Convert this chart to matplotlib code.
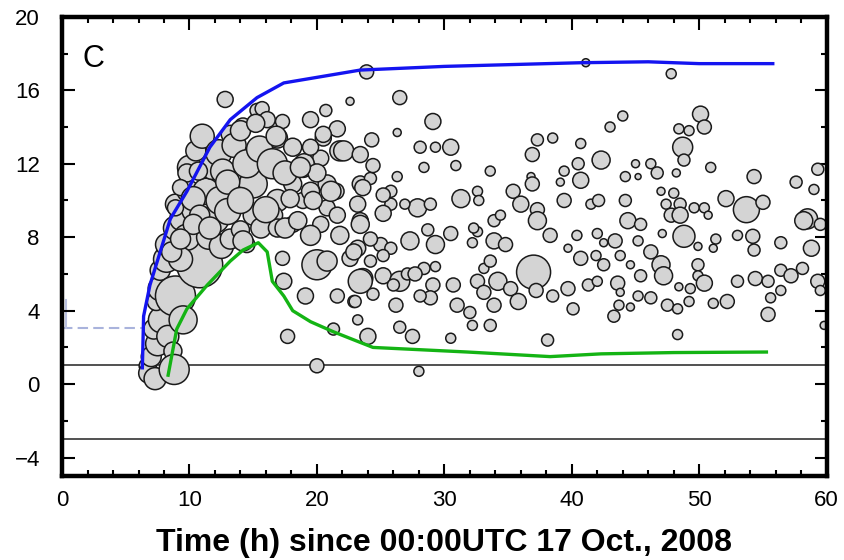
import numpy as np
import matplotlib
matplotlib.use("Agg")
import matplotlib.pyplot as plt
from matplotlib.ticker import MultipleLocator

plt.rcParams.update({
    "font.family": ["Liberation Sans", "DejaVu Sans"],
    "font.size": 15,
})

# Envolvente superior (azul) e inferior (verde)
upper_t = [6.3, 6.4, 6.9, 7.7, 8.5, 9.8, 11.6, 13.2, 15.3, 17.4, 23.4, 30.0, 40.7, 46.0, 50.0, 55.9]
upper_z = [0.8, 3.7, 5.4, 7.2, 9.0, 10.5, 12.9, 14.4, 15.6, 16.4, 17.1, 17.3, 17.5, 17.55, 17.45, 17.45]

lower_t = [8.3, 9.0, 9.8, 11.4, 13.2, 14.2, 15.4, 16.1, 16.5, 17.4, 18.1, 19.5, 21.3, 23.3, 24.4,
           31.8, 38.3, 42.3, 48.0, 55.4]
lower_z = [0.4, 3.0, 4.1, 5.4, 6.7, 7.3, 7.7, 7.2, 5.6, 4.8, 4.0, 3.4, 2.85, 2.3, 2.0,
           1.75, 1.5, 1.65, 1.72, 1.75]

# Linea tenue a la izquierda
early_t = [0.0, 6.3]
early_z = [3.05, 3.05]

# Niveles de referencia
ref_levels = [1.05, -3.0]

# Eventos: tiempo (h), altura, magnitud relativa
ev_time = [
    6.6, 6.8, 7.3, 7.0, 7.5, 7.2, 7.8, 7.4, 7.7, 7.7, 8.2, 8.2, 8.9, 8.9, 8.3, 8.7, 8.8, 8.9, 10.8, 9.5,
    9.4, 9.9, 10.0, 10.5, 11.0, 9.8, 10.5, 11.3, 11.8, 12.0, 12.3, 11.5, 9.3, 12.5, 8.6, 9.8, 12.8, 9.3, 8.9, 10.7,
    12.6, 13.2, 14.2, 15.3, 15.0, 15.0, 12.4, 10.3, 16.9, 18.1, 16.6, 18.9, 20.3, 20.5, 21.8, 18.1, 16.9, 18.9, 20.8, 20.8,
    13.0, 10.8, 15.0, 16.6, 10.3, 11.6, 13.2, 9.3, 14.5, 15.6, 16.9, 18.1, 20.3, 14.0, 13.5, 14.5, 15.5, 16.5, 17.5, 13.0,
    14.0, 16.0, 17.5, 15.7, 16.1, 17.3, 19.5, 20.7, 21.6, 22.6, 14.0, 15.2, 16.8, 19.0, 19.5, 20.0, 21.5, 22.1, 20.5, 19.5,
    18.7, 21.1, 23.4, 23.4, 21.6, 19.7, 17.9, 19.5, 18.5, 21.8, 23.2, 17.3, 17.4, 20.0, 20.8, 22.6, 19.1, 21.6, 22.9, 17.7,
    21.3, 20.0, 14.2, 23.6, 25.0, 25.8, 24.2, 25.8, 23.9, 26.5, 29.1, 26.3, 24.3, 30.5, 28.1, 29.3, 28.4, 26.3, 30.9, 33.6,
    37.3, 36.9, 38.5, 40.7, 40.5, 39.4, 40.7, 39.1, 42.1, 36.8, 31.3, 32.6, 32.7, 23.6, 25.2, 27.9, 28.9, 35.4, 36.9, 36.0,
    37.3, 39.4, 41.5, 23.2, 25.2, 26.9, 23.4, 24.4, 23.4, 24.2, 27.3, 29.3, 30.5, 28.7, 25.8, 23.4, 25.2, 26.5, 27.1, 28.4,
    29.1, 28.9, 28.1, 26.2, 24.4, 23.0, 23.2, 24.0, 26.5, 27.5, 28.0, 30.7, 31.0, 32.0, 32.2, 32.6, 33.6, 33.1, 33.9, 34.2,
    35.2, 35.8, 33.1, 32.2, 32.6, 33.9, 34.8, 33.6, 38.3, 37.3, 37.0, 37.2, 38.5, 38.1, 39.7, 40.1, 40.7, 41.3, 39.7, 40.4,
    30.5, 22.9, 24.2, 25.2, 26.0, 27.7, 29.3, 32.3, 33.9, 34.4, 41.1, 47.8, 44.0, 43.0, 50.1, 50.4, 48.4, 49.2, 48.7, 48.8,
    42.3, 45.0, 46.2, 46.7, 44.2, 45.2, 48.2, 50.9, 54.3, 57.6, 59.3, 59.0, 52.1, 53.7, 55.0, 58.5, 42.1, 44.2, 44.4, 45.4,
    47.0, 48.0, 47.4, 48.5, 47.8, 48.5, 49.6, 50.4, 50.7, 48.8, 49.9, 47.1, 43.4, 45.2, 42.0, 42.5, 51.3, 51.1, 53.0, 54.2,
    54.3, 56.4, 58.8, 59.5, 58.2, 41.9, 42.5, 43.8, 44.6, 46.2, 47.0, 47.2, 45.4, 43.6, 42.0, 43.8, 45.2, 46.2, 47.5, 48.3,
    43.7, 44.6, 43.3, 49.9, 49.9, 50.4, 49.3, 49.2, 48.4, 51.1, 52.2, 53.0, 54.4, 55.4, 56.4, 57.2, 58.1, 59.3, 59.5, 56.4,
    55.6, 55.4, 48.3, 59.8,
]
ev_alt = [
    1.0, 0.6, 0.3, 1.5, 2.2, 3.0, 3.5, 4.5, 5.2, 6.2, 6.8, 7.6, 8.5, 9.8, 2.6, 1.8, 0.8, 4.8, 6.5, 3.5,
    9.0, 10.5, 11.8, 12.7, 13.5, 8.0, 9.5, 10.5, 11.8, 9.0, 12.6, 8.0, 6.8, 7.5, 7.2, 11.5, 15.5, 10.7, 9.6, 11.6,
    11.6, 13.6, 14.0, 14.9, 12.3, 10.9, 10.0, 10.1, 13.4, 12.9, 11.9, 11.8, 12.3, 13.4, 12.7, 10.9, 10.0, 10.0, 10.9, 9.6,
    9.4, 9.2, 9.2, 9.2, 8.7, 8.5, 7.9, 7.9, 7.6, 8.5, 8.5, 8.7, 8.7, 8.4, 13.0, 12.0, 12.8, 12.0, 11.5, 11.0,
    10.0, 9.5, 8.5, 15.0, 14.4, 14.3, 14.4, 14.9, 13.9, 15.4, 13.8, 14.2, 13.5, 12.0, 10.5, 11.5, 10.5, 12.7, 13.6, 12.9,
    11.8, 10.5, 10.9, 8.9, 9.2, 10.0, 10.1, 8.1, 8.9, 8.1, 7.4, 6.85, 5.6, 6.5, 6.7, 6.85, 4.8, 4.8, 4.5, 2.6,
    3.0, 1.0, 7.8, 5.75, 7.6, 9.8, 11.2, 10.5, 17.0, 15.6, 14.3, 13.7, 13.3, 12.9, 12.9, 12.9, 11.8, 11.3, 11.9, 11.6,
    13.3, 12.5, 13.4, 13.1, 12.0, 11.6, 11.1, 11.0, 12.2, 11.3, 10.1, 10.5, 10.0, 10.7, 10.3, 9.6, 9.8, 10.5, 10.9, 9.8,
    9.5, 10.0, 9.8, 9.8, 9.3, 9.8, 12.5, 11.9, 8.7, 7.9, 7.8, 7.6, 8.2, 8.4, 7.4, 5.6, 5.9, 5.6, 6.0, 6.3,
    5.4, 4.7, 4.8, 4.3, 4.9, 4.5, 3.5, 2.6, 3.1, 2.6, 0.7, 5.4, 4.3, 3.9, 3.2, 5.6, 3.2, 5.0, 4.3, 5.6,
    5.2, 4.5, 6.3, 7.7, 8.3, 7.8, 7.6, 6.7, 8.1, 8.9, 6.1, 5.1, 4.8, 2.4, 5.2, 4.1, 6.85, 5.4, 7.4, 8.1,
    2.5, 7.2, 6.7, 7.0, 5.4, 6.0, 6.4, 8.5, 8.9, 9.2, 17.5, 16.9, 14.6, 14.0, 14.7, 14.0, 13.9, 13.8, 12.9, 12.2,
    12.2, 12.0, 12.0, 11.5, 11.3, 11.3, 11.5, 11.8, 11.3, 11.0, 11.7, 10.6, 10.1, 9.5, 9.9, 9.0, 10.0, 10.0, 8.9, 8.7,
    10.5, 10.4, 9.8, 9.8, 9.2, 9.2, 9.6, 9.6, 9.2, 8.05, 7.5, 8.2, 7.8, 7.8, 8.2, 7.7, 7.9, 7.4, 8.1, 8.05,
    7.3, 7.7, 7.4, 8.7, 8.9, 7.0, 6.5, 7.0, 6.5, 7.2, 6.5, 5.9, 5.9, 5.5, 5.6, 5.0, 4.8, 4.7, 4.3, 4.1,
    4.3, 4.2, 3.7, 6.5, 5.9, 5.5, 5.2, 4.5, 5.3, 4.4, 4.5, 5.6, 5.75, 5.6, 6.2, 5.9, 6.3, 5.6, 5.1, 5.1,
    4.7, 3.8, 2.7, 3.2,
]
ev_mag = [
    7, 10, 11, 10, 12, 10, 13, 9, 12, 10, 13, 11, 12, 10, 11, 9, 15, 20, 23, 14,
    12, 11, 12, 10, 12, 13, 14, 13, 12, 14, 13, 12, 12, 12, 10, 9, 8, 8, 8, 9,
    12, 9, 9, 7, 13, 14, 14, 12, 10, 9, 10, 10, 8, 8, 10, 9, 11, 8, 9, 8,
    13, 10, 10, 9, 10, 11, 10, 10, 8, 10, 9, 8, 8, 9, 12, 14, 13, 15, 12, 12,
    13, 13, 10, 7, 8, 7, 8, 6, 8, 4, 10, 9, 10, 10, 9, 9, 8, 10, 8, 8,
    10, 10, 8, 8, 8, 9, 9, 10, 9, 9, 8, 7, 8, 15, 10, 8, 8, 7, 6, 7,
    6, 7, 10, 10, 7, 6, 6, 6, 7, 7, 8, 4, 7, 8, 6, 5, 5, 5, 5, 5,
    6, 7, 5, 5, 6, 5, 8, 4, 6, 4, 9, 5, 5, 8, 7, 9, 6, 7, 7, 8,
    7, 7, 5, 8, 8, 5, 8, 7, 9, 7, 9, 9, 7, 6, 6, 12, 8, 10, 6, 6,
    7, 7, 6, 7, 6, 6, 5, 8, 6, 7, 5, 7, 7, 6, 5, 7, 6, 7, 7, 9,
    7, 8, 5, 5, 5, 8, 7, 6, 7, 9, 17, 7, 6, 6, 7, 6, 7, 6, 4, 5,
    5, 8, 6, 6, 6, 7, 5, 5, 6, 5, 4, 5, 5, 5, 8, 7, 5, 5, 10, 6,
    9, 4, 5, 6, 5, 3, 4, 5, 7, 6, 6, 5, 8, 13, 7, 10, 6, 6, 8, 6,
    4, 5, 5, 6, 7, 8, 5, 5, 4, 11, 4, 4, 7, 5, 5, 4, 5, 4, 5, 7,
    6, 6, 8, 6, 9, 5, 6, 5, 4, 7, 9, 9, 6, 7, 5, 4, 5, 6, 6, 5,
    5, 4, 6, 6, 5, 8, 5, 5, 4, 5, 7, 6, 7, 6, 6, 7, 6, 7, 5, 5,
    5, 7, 5, 4,
]


def main():
    fig = plt.figure(figsize=(8.44, 5.60), dpi=100)
    ax = fig.add_axes([0.0735, 0.150, 0.906, 0.820])

    for lvl in ref_levels:
        ax.axhline(lvl, color="#333333", lw=1.2, zorder=1)

    ax.plot(early_t, early_z, color="#a9b3dc", lw=1.5, ls=(0, (5, 2.5)), zorder=1)
    ax.plot([0.35, 0.35], [3.05, 4.6], color="#b9c0e0", lw=1.5, zorder=1)

    sizes = (1.44 * np.array(ev_mag, dtype=float)) ** 2
    ax.scatter(ev_time, ev_alt, s=sizes, facecolor="#d4d4d4", edgecolor="#1a1a1a",
               linewidths=1.1, zorder=2)

    ax.plot(upper_t, upper_z, color="#1414f0", lw=2.4, zorder=3, solid_capstyle="butt")
    ax.plot(lower_t, lower_z, color="#14b414", lw=2.4, zorder=3, solid_capstyle="butt")

    ax.set_xlim(0, 60)
    ax.set_ylim(-5, 20)
    ax.xaxis.set_major_locator(MultipleLocator(10))
    ax.xaxis.set_minor_locator(MultipleLocator(2))
    ax.yaxis.set_major_locator(MultipleLocator(4))
    ax.yaxis.set_minor_locator(MultipleLocator(2))
    ax.tick_params(which="both", direction="in", top=True, right=True, width=1.5)
    ax.tick_params(which="major", length=9, labelsize=16)
    ax.tick_params(axis="y", which="major", pad=16)
    ax.tick_params(axis="x", which="major", pad=10)
    ax.tick_params(which="minor", length=4.5)
    for sp in ax.spines.values():
        sp.set_linewidth(3.2)

    ax.text(2.5, 17.7, "C", fontsize=22, ha="center", va="center")
    ax.set_xlabel("Time (h) since 00:00UTC 17 Oct., 2008", fontsize=23,
                  fontweight="bold", labelpad=12)

    fig.savefig("out.png", dpi=100)
    plt.close(fig)


if __name__ == "__main__":
    main()
